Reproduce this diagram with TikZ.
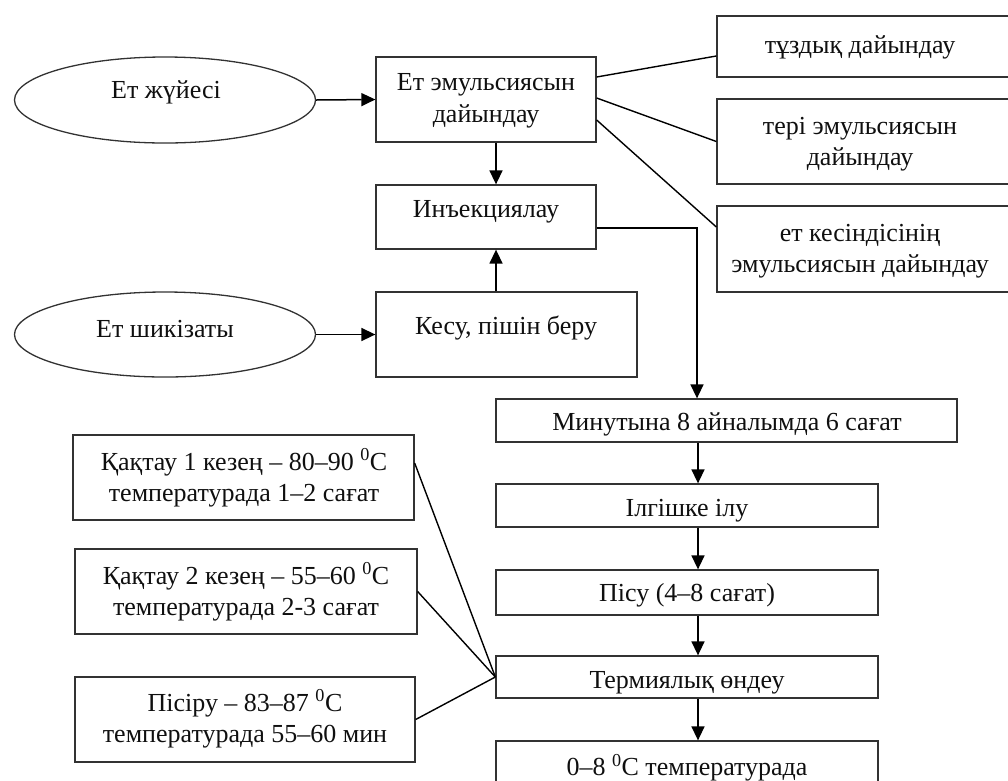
\documentclass[tikz,border=0pt]{standalone}
\usepackage{fontspec}
\setmainfont{Liberation Serif}
\usetikzlibrary{shapes.geometric,arrows.meta}
\definecolor{boxgray}{RGB}{50,50,50}
\definecolor{inkc}{RGB}{15,15,15}
\tikzset{
  box/.style={draw=boxgray, line width=1.3pt, inner sep=0pt, rectangle},
  oval/.style={draw=boxgray, line width=1.3pt, inner sep=0pt, ellipse},
  txt/.style={font=\fontsize{26}{31.5}\selectfont, text=inkc, align=center, inner sep=0pt},
  arr/.style={line width=1.5pt, -{Triangle[length=14pt,width=13pt]}},
  conn/.style={line width=1.4pt},
}
\begin{document}
\begin{tikzpicture}[x=1pt,y=-1pt]
\useasboundingbox (0,0) rectangle (1008,780);
\clip (0,0) rectangle (1008,780);
% ellipses
\node[oval, minimum width=301pt, minimum height=86pt] (A) at (165,100) {};
\node[txt] (At) at (166,92) {Ет жүйесі};
\node[oval, minimum width=301pt, minimum height=85pt] (D) at (165,334.5) {};
\node[txt] (Dt) at (165,329) {Ет шикізаты};
% left column boxes
\node[box, minimum width=220pt, minimum height=85pt] (B) at (486,99.5) {};
\node[txt] (Bt) at (486,101) {Ет эмульсиясын\\дайындау};
\node[box, minimum width=220pt, minimum height=64pt] (C) at (486,217) {};
\node[txt] (Ct) at (486,212) {Инъекциялау};
\node[box, minimum width=261pt, minimum height=85pt] (E) at (506.5,334.5) {};
\node[txt] (Et) at (506,328) {Кесу, пішін беру};
% right boxes (cut by the right edge)
\node[box, minimum width=300pt, minimum height=61pt] (F) at (867,46.5) {};
\node[txt] (Ft) at (860,47) {тұздық дайындау};
\node[box, minimum width=300pt, minimum height=85pt] (G) at (867,141.5) {};
\node[txt] (Gt) at (860,144) {тері эмульсиясын\\дайындау};
\node[box, minimum width=300pt, minimum height=86pt] (H) at (867,249) {};
\node[txt] (Ht) at (860,251) {ет кесіндісінің\\эмульсиясын дайындау};
% main column
\node[box, minimum width=461pt, minimum height=43pt] (I) at (726.5,420.5) {};
\node[txt] (It) at (727,424) {Минутына 8 айналымда 6 сағат};
\node[box, minimum width=382pt, minimum height=43pt] (J) at (687,505.5) {};
\node[txt] (Jt) at (687,511) {Ілгішке ілу};
\node[box, minimum width=382pt, minimum height=45pt] (K) at (687,592.5) {};
\node[txt] (Kt) at (687,595) {Пісу (4–8 сағат)};
\node[box, minimum width=382pt, minimum height=42pt] (L) at (687,677) {};
\node[txt] (Lt) at (687,683) {Термиялық өндеу};
\node[box, minimum width=382pt, minimum height=80pt] (M) at (687,781) {};
\node[txt] (Mt) at (687,768) {0–8 \textsuperscript{0}C температурада};
% left lower boxes
\node[box, minimum width=341pt, minimum height=85pt] (N) at (243.5,477.5) {};
\node[txt] (Nt) at (244,478) {Қақтау 1 кезең – 80–90 \textsuperscript{0}C\\температурада 1–2 сағат};
\node[box, minimum width=342pt, minimum height=85pt] (O) at (246,591.5) {};
\node[txt] (Ot) at (246,592) {Қақтау 2 кезең – 55–60 \textsuperscript{0}C\\температурада 2-3 сағат};
\node[box, minimum width=340pt, minimum height=85pt] (P) at (245,719.5) {};
\node[txt] (Pt) at (245,719) {Пісіру – 83–87 \textsuperscript{0}C\\температурада 55–60 мин};
% guide coordinates
\coordinate (vx) at (496,0);
\coordinate (wx) at (698,0);
% connectors
\draw[arr] (A.east) -- (B.west);
\draw[arr] (D.east) -- (E.west);
\draw[arr] (vx |- B.south) -- (vx |- C.north);
\draw[arr] (vx |- E.north) -- (vx |- C.south);
\draw[conn] ([yshift=22.5pt]B.east) -- ([yshift=-9.5pt]F.west);
\draw[conn] ([yshift=1.5pt]B.east) -- (G.west);
\draw[conn] ([yshift=-20.5pt]B.east) -- ([yshift=22pt]H.west);
\draw[arr] ([yshift=-11pt]C.east) -| ([xshift=-29.5pt]I.north);
\draw[arr] (wx |- I.south) -- (wx |- J.north);
\draw[arr] (wx |- J.south) -- (wx |- K.north);
\draw[arr] (wx |- K.south) -- (wx |- L.north);
\draw[arr] (wx |- L.south) -- (wx |- M.north);
\draw[conn] ([yshift=14.5pt]N.east) -- (L.west);
\draw[conn] (O.east) -- (L.west);
\draw[conn] (P.east) -- (L.west);
\end{tikzpicture}
\end{document}
